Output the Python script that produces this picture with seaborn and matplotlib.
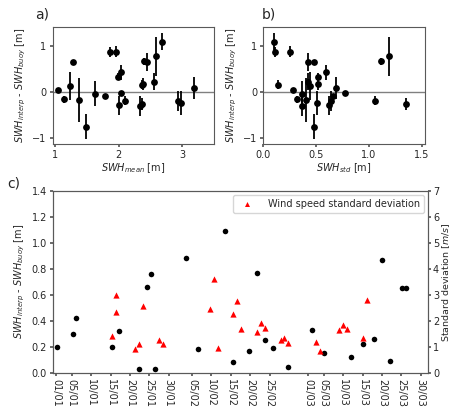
import numpy as np
import pandas as pd
import matplotlib
matplotlib.use("Agg")
import matplotlib.pyplot as plt
import seaborn as sns

# Matchups: mean and std of SWH along the track, interpolation error and its spread
swh_mean = [1.05, 1.14, 1.24, 1.28, 1.38, 1.48, 1.63, 1.79, 1.86, 1.96, 1.99, 2.03, 2.00, 2.04,
            2.10, 2.33, 2.36, 2.38, 2.36, 2.39, 2.44, 2.55, 2.58, 2.68, 2.93, 2.97, 3.18]
swh_std = [0.28, 0.32, 0.44, 0.48, 0.40, 0.48, 0.37, 0.66, 0.11, 0.25, 0.52, 0.59, 0.62, 0.77,
           1.06, 0.37, 1.35, 0.52, 0.14, 1.11, 0.42, 0.42, 1.19, 0.10, 0.64, 0.51, 0.69]
swh_diff = [0.03, -0.17, 0.12, 0.65, -0.18, -0.76, -0.04, -0.10, 0.87, 0.87, 0.33, 0.42, -0.30, -0.03,
            -0.20, -0.32, -0.26, 0.17, 0.15, 0.66, 0.65, 0.22, 0.77, 1.09, -0.20, -0.25, 0.08]
swh_err = [0.03, 0.08, 0.31, 0.03, 0.47, 0.28, 0.28, 0.05, 0.11, 0.12, 0.07, 0.16, 0.21, 0.05,
           0.10, 0.22, 0.13, 0.13, 0.10, 0.08, 0.20, 0.18, 0.43, 0.19, 0.22, 0.26, 0.24]

# Time series (day along the campaign timeline)
diff_day = [0.2, 4.2, 5.2, 14.4, 16.3, 21.4, 23.4, 24.5, 25.4, 33.5, 36.6, 43.5, 45.6, 49.7,
            51.7, 53.8, 55.8, 59.8, 65.9, 69.0, 76.0, 79.0, 82.0, 84.0, 86.1, 89.1, 90.2]
abs_diff = [0.20, 0.30, 0.42, 0.20, 0.32, 0.03, 0.66, 0.76, 0.03, 0.88, 0.18, 1.09, 0.08, 0.17,
            0.77, 0.25, 0.19, 0.04, 0.33, 0.15, 0.12, 0.22, 0.26, 0.87, 0.09, 0.65, 0.65]
wind_day = [14.4, 15.3, 15.3, 20.4, 21.4, 22.4, 26.4, 27.5, 39.6, 40.6, 41.7, 45.7, 46.7, 47.7,
            51.7, 52.8, 53.8, 57.9, 58.8, 59.8, 67.0, 67.9, 73.0, 74.0, 75.0, 79.0, 80.1]
wind_std = [1.42, 2.99, 2.32, 0.91, 1.12, 2.55, 1.25, 1.10, 2.46, 3.60, 0.94, 2.26, 2.76, 1.68,
            1.57, 1.90, 1.71, 1.25, 1.35, 1.15, 1.17, 0.85, 1.63, 1.82, 1.67, 1.32, 2.80]

tick_labels = ["01/01", "05/01", "10/01", "15/01", "20/01", "25/01", "30/01",
               "05/02", "10/02", "15/02", "20/02", "25/02",
               "01/03", "05/03", "10/03", "15/03", "20/03", "25/03", "30/03"]
tick_days = [0, 4, 9, 14, 19, 24, 29, 35, 40, 45, 50, 55, 65, 69, 74, 79, 84, 89, 94]

sns.set_theme(style="ticks")
plt.rcParams.update({
    "font.family": ["DejaVu Sans"],
    "font.size": 7,
    "axes.labelsize": 7,
    "xtick.labelsize": 7,
    "ytick.labelsize": 7,
    "legend.fontsize": 7,
    "axes.edgecolor": "0.35",
    "axes.linewidth": 0.8,
    "xtick.color": "0.35",
    "ytick.color": "0.35",
    "xtick.labelcolor": "0.15",
    "ytick.labelcolor": "0.15",
    "xtick.major.size": 2.5,
    "ytick.major.size": 2.5,
    "xtick.major.pad": 2,
    "ytick.major.pad": 2,
    "axes.labelcolor": "0.15",
    "text.color": "0.15",
})

matchups = pd.DataFrame({"mean": swh_mean, "std": swh_std, "diff": swh_diff, "err": swh_err})
series = pd.DataFrame({"day": diff_day, "absdiff": abs_diff})
wind = pd.DataFrame({"day": wind_day, "wstd": wind_std})

fig = plt.figure(figsize=(4.54, 4.09), dpi=100)
ax_a = fig.add_axes([0.116, 0.648, 0.356, 0.287])
ax_b = fig.add_axes([0.580, 0.648, 0.356, 0.287])
ax_c = fig.add_axes([0.117, 0.089, 0.826, 0.444])

ylab = r"$SWH_{interp}$ - $SWH_{buoy}$ [m]"

for ax, col, xlab, xlim in [(ax_a, "mean", r"$SWH_{mean}$ [m]", (0.96, 3.5)),
                            (ax_b, "std", r"$SWH_{std}$ [m]", (0.0, 1.53))]:
    ax.axhline(0, color="0.5", lw=1.0, zorder=1)
    ax.errorbar(matchups[col], matchups["diff"], yerr=matchups["err"], fmt="none",
                ecolor="black", elinewidth=1.3, capsize=0, zorder=2)
    sns.scatterplot(data=matchups, x=col, y="diff", ax=ax, color="black", s=24,
                    edgecolor="black", linewidth=0, zorder=3)
    ax.set_xlim(*xlim)
    ax.set_ylim(-1.14, 1.42)
    ax.set_yticks([-1, 0, 1])
    ax.set_xlabel(xlab, labelpad=1)
    ax.set_ylabel(ylab, labelpad=3)

ax_a.set_xticks([1, 2, 3])
ax_b.set_xticks([0.0, 0.5, 1.0, 1.5])

# Panel c: absolute difference and wind speed variability over time
sns.scatterplot(data=series, x="day", y="absdiff", ax=ax_c, color="black", s=16,
                linewidth=0, zorder=3)
ax_c.set_xlim(-0.8, 95.9)
ax_c.set_ylim(0, 1.4)
ax_c.set_yticks(np.arange(0, 1.41, 0.2))
ax_c.yaxis.set_major_formatter(matplotlib.ticker.FormatStrFormatter("%.1f"))
ax_c.set_xticks(tick_days)
ax_c.set_xticklabels(tick_labels, rotation=270)
ax_c.set_xlabel("")
ax_c.set_ylabel(ylab, labelpad=3)

ax_w = ax_c.twinx()
sns.scatterplot(data=wind, x="day", y="wstd", ax=ax_w, color="red", marker="^", s=20,
                linewidth=0, label="Wind speed standard deviation", zorder=3)
ax_w.set_ylim(0, 7)
ax_w.set_yticks(range(0, 8))
ax_w.tick_params(axis="y", length=2, pad=1.5)
ax_w.set_ylabel(r"Standard deviation [$m/s$]", labelpad=1, fontsize=6.8)
ax_w.legend(loc="upper right", frameon=True, borderaxespad=0.4, handletextpad=1.2,
            borderpad=0.4, markerscale=0.8)

fig.text(0.077, 0.955, "a)", fontsize=10)
fig.text(0.577, 0.955, "b)", fontsize=10)
fig.text(0.015, 0.542, "c)", fontsize=10)

fig.savefig("out.png", dpi=100)
